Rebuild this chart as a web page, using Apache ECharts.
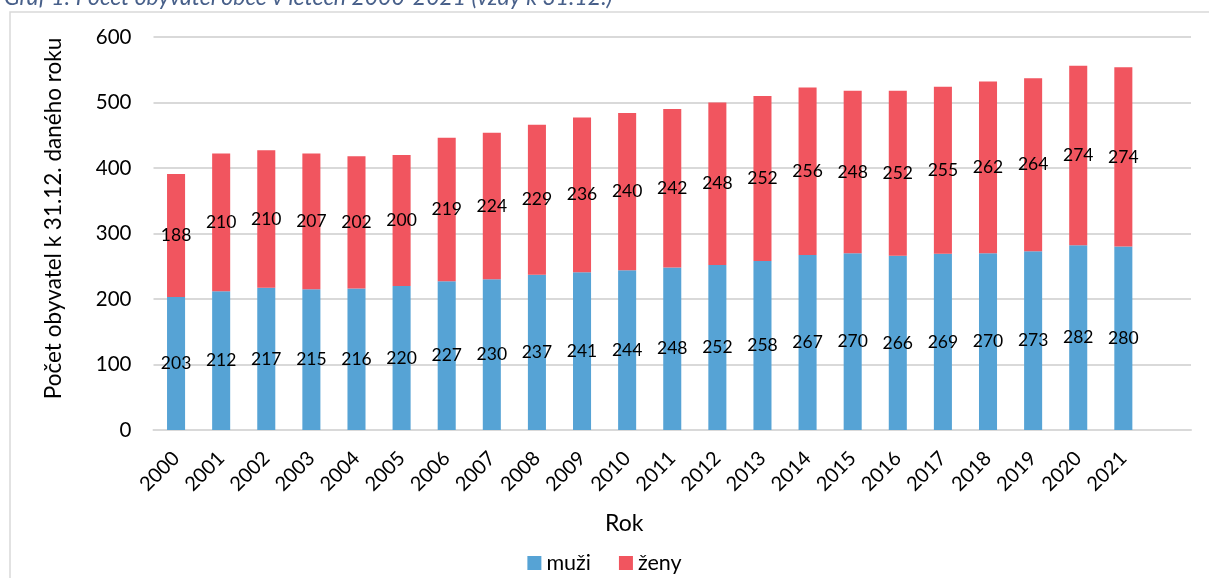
<!DOCTYPE html>
<html><head><meta charset="utf-8">
<script src="https://cdn.jsdelivr.net/npm/echarts@6/dist/echarts.min.js"></script>
<style>html,body{margin:0;padding:0;background:#fff}#c{width:1209px;height:578px}</style>
</head><body><div id="c"></div>
<script>
const years = ['2000','2001','2002','2003','2004','2005','2006','2007','2008','2009','2010','2011','2012','2013','2014','2015','2016','2017','2018','2019','2020','2021',''];
const muzi = [203,212,217,215,216,220,227,230,237,241,244,248,252,258,267,270,266,269,270,273,282,280,null];
const zeny = [188,210,210,207,202,200,219,224,229,236,240,242,248,252,256,248,252,255,262,264,274,274,null];
const yTicks = [0,100,200,300,400,500,600];

const chart = echarts.init(document.getElementById('c'));
const font = 'Lato, "Open Sans", "DejaVu Sans", sans-serif';
const lbl = {show:true, position:'inside', color:'#000', fontSize:17.5, fontFamily:font};
chart.setOption({
  animation:false,
  textStyle:{fontFamily:font},
  title:{text:'Graf 1: Počet obyvatel obce v letech 2000-2021 (vždy k 31.12.)', left:-1, top:-19,
    textStyle:{fontStyle:'italic', fontWeight:'normal', fontSize:23, color:'#48608A', fontFamily:font}},
  graphic:[{type:'rect', shape:{x:10, y:12, width:1250, height:620}, style:{fill:'none', stroke:'#D9D9D9', lineWidth:1.5}, silent:true}],
  grid:{left:153.5, right:18, top:37, bottom:148},
  legend:{bottom:-1, left:'center', itemWidth:14, itemHeight:14, itemGap:28, icon:'rect',
    textStyle:{fontSize:21.5, color:'#000', fontFamily:font},
    data:['muži','ženy']},
  xAxis:{type:'category', data:years, name:'Rok', nameLocation:'middle', nameGap:82,
    nameTextStyle:{fontSize:23, color:'#000', fontFamily:font, padding:[0,0,0,-96]},
    axisTick:{show:false}, axisLine:{lineStyle:{color:'#D9D9D9', width:2}},
    axisLabel:{rotate:45, fontSize:20, color:'#000', interval:0, margin:25, fontFamily:font}},
  yAxis:{type:'value', min:yTicks[0], max:yTicks[yTicks.length-1], interval:100,
    name:'Počet obyvatel k 31.12. daného roku', nameLocation:'middle', nameGap:88,
    nameTextStyle:{fontSize:22.5, color:'#000', fontFamily:font, padding:[0,0,0,30]},
    axisLine:{show:false}, axisTick:{show:false},
    axisLabel:{fontSize:20.5, color:'#000', margin:22, fontFamily:font},
    splitLine:{lineStyle:{color:'#D9D9D9', width:2}}},
  series:[
    {name:'muži', type:'bar', stack:'a', data:muzi, barWidth:'40%', itemStyle:{color:'#56A3D5'}, label:lbl},
    {name:'ženy', type:'bar', stack:'a', data:zeny, barWidth:'40%', itemStyle:{color:'#F1555F'}, label:lbl}
  ]
});
</script></body></html>
